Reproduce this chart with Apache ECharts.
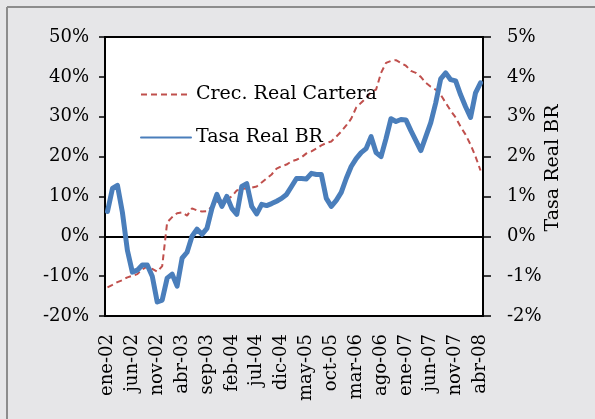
<!DOCTYPE html>
<html>
<head>
<meta charset="utf-8">
<script src="https://cdn.jsdelivr.net/npm/echarts@6/dist/echarts.min.js"></script>
<style>
  html, body { margin: 0; padding: 0; background: #e6e6e8; overflow: hidden; }
  #chart { width: 595px; height: 419px; }
</style>
</head>
<body>
<div id="chart"></div>
<script>
// meses ene-02 .. abr-08
var meses = ['ene','feb','mar','abr','may','jun','jul','ago','sep','oct','nov','dic'];
var categorias = [];
for (var a = 2; a <= 8; a++) {
    for (var m = 0; m < 12; m++) {
        if (a === 8 && m > 3) break;
        categorias.push(meses[m] + '-0' + a);
    }
}

// Crec. Real Cartera (%), eje izquierdo
var crecCartera = [
    -12.8, -12.2, -11.5, -11.0, -10.3, -9.9, -9.5, -8.3, -7.6, -8.2,
    -8.9, -7.5, 3.5, 4.8, 5.8, 6.0, 5.2, 7.0, 6.5, 6.2,
    6.3, 7.5, 8.6, 9.0, 9.3, 10.0, 11.5, 11.9, 12.0, 12.2,
    12.5, 13.5, 14.5, 15.5, 17.0, 17.6, 18.0, 18.8, 19.2, 19.8,
    20.8, 21.3, 22.0, 22.8, 23.4, 23.8, 25.0, 26.3, 27.8, 29.5,
    32.3, 33.5, 34.7, 36.2, 36.8, 41.0, 43.5, 44.0, 44.2, 43.5,
    42.8, 41.5, 41.0, 40.0, 38.5, 37.5, 36.8, 35.5, 33.5, 31.5,
    29.8, 27.5, 25.5, 23.0, 20.0, 16.5
];

// Tasa Real BR (%), eje derecho
var tasaRealBR = [
    0.62, 1.2, 1.28, 0.6, -0.35, -0.9, -0.85, -0.72, -0.72, -1.0,
    -1.65, -1.6, -1.05, -0.95, -1.25, -0.55, -0.4, 0.0, 0.18, 0.05,
    0.2, 0.7, 1.05, 0.75, 1.0, 0.7, 0.55, 1.25, 1.32, 0.75,
    0.56, 0.8, 0.77, 0.82, 0.88, 0.95, 1.05, 1.25, 1.45, 1.45,
    1.44, 1.58, 1.55, 1.55, 0.95, 0.75, 0.9, 1.1, 1.45, 1.75,
    1.95, 2.1, 2.2, 2.5, 2.1, 2.0, 2.45, 2.95, 2.88, 2.93,
    2.92, 2.65, 2.4, 2.15, 2.5, 2.85, 3.35, 3.95, 4.1, 3.93,
    3.9, 3.55, 3.25, 2.98, 3.6, 3.85
];

var fuente = 'DejaVu Serif';

var chart = echarts.init(document.getElementById('chart'));
var option = {
    backgroundColor: '#e6e6e8',
    animation: false,
    textStyle: { fontFamily: fuente, color: '#000' },
    graphic: [{
        type: 'line',
        shape: { x1: 7, y1: 7, x2: 7, y2: 430 },
        style: { stroke: '#8c8c8c', lineWidth: 2 },
        silent: true
    }, {
        type: 'line',
        shape: { x1: 7, y1: 7, x2: 640, y2: 7 },
        style: { stroke: '#8c8c8c', lineWidth: 2 },
        silent: true
    }, {
        type: 'text',
        x: 553, y: 168,
        rotation: Math.PI / 2,
        style: {
            text: 'Tasa Real BR',
            font: '19px "DejaVu Serif"',
            fill: '#000',
            align: 'center',
            verticalAlign: 'middle'
        },
        silent: true
    }],
    grid: {
        left: 105, right: 112, top: 37, bottom: 103,
        show: true, backgroundColor: '#fff', borderColor: '#000', borderWidth: 2
    },
    legend: {
        orient: 'vertical',
        left: 135, top: 80,
        itemWidth: 50, itemHeight: 16, itemGap: 24,
        itemStyle: { color: 'transparent', borderWidth: 0, opacity: 0 },
        textStyle: { fontFamily: fuente, fontSize: 19, color: '#000' },
        data: ['Crec. Real Cartera', 'Tasa Real BR']
    },
    xAxis: [{
        type: 'category',
        data: categorias,
        boundaryGap: true,
        axisLine: { onZero: true, lineStyle: { color: '#000', width: 2 } },
        axisTick: { interval: 4, length: 5, lineStyle: { color: '#000', width: 1.5 } },
        axisLabel: { show: false },
        splitLine: { show: false }
    }, {
        type: 'category',
        data: categorias,
        position: 'bottom',
        boundaryGap: true,
        axisLine: { show: false, onZero: false },
        axisTick: { show: false },
        axisLabel: { interval: 4, rotate: 90, margin: 18, fontSize: 18, fontFamily: fuente, color: '#000' },
        splitLine: { show: false }
    }],
    yAxis: [{
        type: 'value',
        min: -20, max: 50, interval: 10,
        axisLine: { show: true, lineStyle: { color: '#000', width: 2 } },
        axisTick: { show: true, length: 6, lineStyle: { color: '#000', width: 1.5 } },
        axisLabel: { formatter: '{value}%', margin: 16, fontSize: 18, fontFamily: fuente, color: '#000' },
        splitLine: { show: false }
    }, {
        type: 'value',
        min: -2, max: 5, interval: 1,
        axisLine: { show: true, lineStyle: { color: '#000', width: 2 } },
        axisTick: { show: true, length: 8, lineStyle: { color: '#000', width: 1.5 } },
        axisLabel: { formatter: '{value}%', margin: 24, fontSize: 18, fontFamily: fuente, color: '#000' },
        splitLine: { show: false }
    }],
    series: [{
        name: 'Crec. Real Cartera',
        type: 'line',
        xAxisIndex: 0, yAxisIndex: 0,
        symbol: 'none',
        data: crecCartera,
        lineStyle: { color: '#c0504d', width: 2, type: [6, 4] },
        itemStyle: { color: '#c0504d' },
        z: 3
    }, {
        name: 'Tasa Real BR',
        type: 'line',
        xAxisIndex: 0, yAxisIndex: 1,
        symbol: 'none',
        data: tasaRealBR,
        lineStyle: { color: '#4a7ebb', width: 5, cap: 'round', join: 'round' },
        itemStyle: { color: '#4a7ebb' },
        z: 4
    }]
};
chart.setOption(option);
</script>
</body>
</html>
